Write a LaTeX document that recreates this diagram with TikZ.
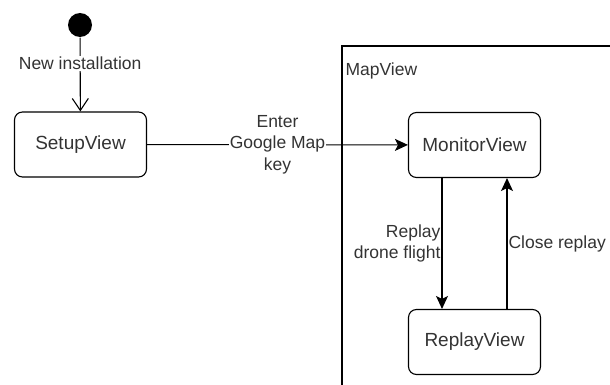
\documentclass[tikz,border=0pt]{standalone}
\usepackage{fontspec}
\setmainfont{Liberation Sans}
\usetikzlibrary{arrows.meta}

\begin{document}
\begin{tikzpicture}[x=1pt,y=-1pt,line width=1.1pt,
  viewbox/.style={draw,rounded corners=8pt,minimum width=132pt,minimum height=65pt,text=black!80,font=\fontsize{19}{22}\selectfont},
  lbl/.style={text=black!80,font=\fontsize{17.5}{21.5}\selectfont,align=center,inner sep=1pt},
  open/.style={-{Straight Barb[length=12pt,width=16pt]}},
  solid/.style={-{Stealth[length=13pt,width=12pt,inset=3pt]}}]

\clip (0,0) rectangle (610,385);

\draw (342,46) rectangle (620,400);
\node[lbl,anchor=west] (mapview) at (344,71) {MapView};

\node[circle,fill=black,minimum size=24pt,inner sep=0pt] (start) at (80,25) {};
\node[viewbox] (setup) at (80.5,144.5) {SetupView};
\node[viewbox] (monitor) at (474.5,145) {MonitorView};
\node[viewbox] (replay) at (474.5,342) {ReplayView};

\draw[open] (start) -- node[lbl,fill=white,pos=.35] {New installation} (setup);
\draw[solid] (setup) -- node[lbl,fill=white] {Enter\\Google Map\\key} (monitor);
\draw[solid] ([xshift=-32.5pt]monitor.south) -- node[lbl,anchor=east,align=right] {Replay\\drone flight} ([xshift=-32.5pt]replay.north);
\draw[solid] ([xshift=32.5pt]replay.north) -- node[lbl,anchor=west] {Close replay} ([xshift=32.5pt]monitor.south);

\end{tikzpicture}
\end{document}
